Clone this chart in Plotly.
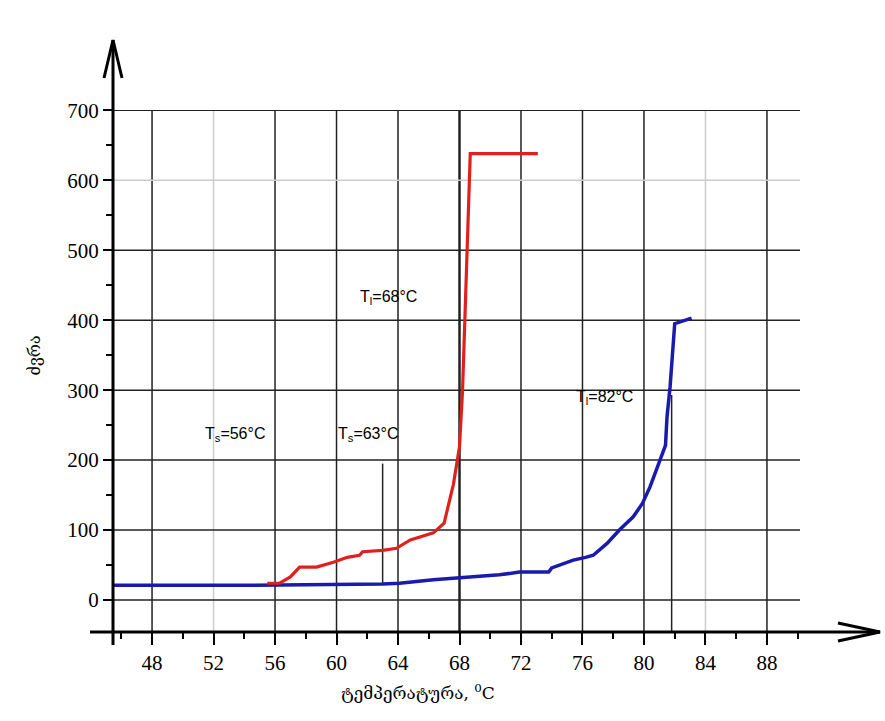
import plotly.graph_objects as go

# ---- data ----
red_x = [55.5, 56.3, 57.0, 57.6, 58.7, 59.8, 60.7, 61.5, 61.7, 63.0, 63.9, 64.8, 66.3, 67.0,
         67.6, 68.0, 68.2, 68.4, 68.6, 68.7, 73.1]
red_y = [24, 24, 33, 47, 47, 54, 61, 64, 69, 71, 74, 86, 96, 110,
         165, 219, 300, 433, 600, 638, 638]

blue_x = [45.5, 54.4, 63.0, 64.1, 66.3, 68.0, 70.6, 71.9, 73.8, 74.0, 74.5, 75.4, 76.2, 76.7,
          77.6, 78.4, 79.3, 79.9, 80.4, 80.9, 81.4, 81.5, 81.7, 82.0, 83.1]
blue_y = [21, 21, 23, 24, 29, 32, 36, 40, 40, 46, 50, 57, 61, 64,
          81, 100, 119, 138, 162, 190, 221, 262, 305, 395, 403]

x_ticks = [48, 52, 56, 60, 64, 68, 72, 76, 80, 84, 88]
y_ticks = [0, 100, 200, 300, 400, 500, 600, 700]

ann_texts = ["T<sub>l</sub>=68°C", "T<sub>s</sub>=56°C", "T<sub>s</sub>=63°C", "T<sub>l</sub>=82°C"]
ann_x = [63.35, 53.4, 62.05, 77.46]
ann_y = [433, 236, 236, 289]

marker_x = [63.0, 81.8]
marker_y0 = [22, -45.7]
marker_y1 = [195, 293]

x_title = "ტემპერატურა, <sup>0</sup>C"
y_title = "ძვრა"

SERIF = "Liberation Serif"

# ---- layout geometry ----
XMIN, XMAX = 45.46, 90.15
YMIN, YMAX = -45.7, 700.5
ML, MT = 113, 110
PW, PH = 885 - 113 - 85, 632 - 110


def px(xpix):
    return (xpix - ML) / PW


def py(ypix):
    return (MT + PH - ypix) / PH


fig = go.Figure()
fig.add_trace(go.Scatter(x=blue_x, y=blue_y, mode="lines",
                         line=dict(color="#1a1aad", width=3.5), showlegend=False))
fig.add_trace(go.Scatter(x=red_x, y=red_y, mode="lines",
                         line=dict(color="#e0201c", width=3.2), showlegend=False))

shapes = []
light_x = {52, 84}
bold_x = {68}
for xv in x_ticks:
    col = "#cccccc" if xv in light_x else "#222222"
    w = 2.5 if xv in bold_x else 1.5
    shapes.append(dict(type="line", xref="x", yref="y", x0=xv, x1=xv, y0=YMIN, y1=700,
                       line=dict(color=col, width=w), layer="below"))
for yv in y_ticks:
    col = "#cccccc" if yv == 600 else "#222222"
    shapes.append(dict(type="line", xref="x", yref="y", x0=XMIN, x1=XMAX, y0=yv, y1=yv,
                       line=dict(color=col, width=1.5), layer="below"))
for mx, a, b in zip(marker_x, marker_y0, marker_y1):
    shapes.append(dict(type="line", xref="x", yref="y", x0=mx, x1=mx, y0=a, y1=b,
                       line=dict(color="#222222", width=1.5), layer="below"))

# axes with arrows
shapes.append(dict(type="line", xref="paper", yref="paper", x0=px(90), x1=px(880),
                   y0=py(632), y1=py(632), line=dict(color="black", width=3)))
shapes.append(dict(type="line", xref="paper", yref="paper", x0=px(113), x1=px(113),
                   y0=py(645), y1=py(40), line=dict(color="black", width=3)))
shapes.append(dict(type="path", xref="paper", yref="paper",
                   path=f"M {px(838)} {py(623)} L {px(880)} {py(632)} L {px(838)} {py(641)}",
                   line=dict(color="black", width=3)))
shapes.append(dict(type="path", xref="paper", yref="paper",
                   path=f"M {px(104)} {py(78)} L {px(113)} {py(40)} L {px(122)} {py(78)}",
                   line=dict(color="black", width=3)))

annotations = []
for t, xa, ya in zip(ann_texts, ann_x, ann_y):
    annotations.append(dict(x=xa, y=ya, xref="x", yref="y", text=t, showarrow=False,
                            font=dict(family="Liberation Sans", size=16, color="black")))
annotations.append(dict(x=px(418), y=py(705), xref="paper", yref="paper", text=x_title,
                        showarrow=False, font=dict(family="DejaVu Serif", size=17, color="black")))
annotations.append(dict(x=px(22), y=py(355), xref="paper", yref="paper", text=y_title,
                        textangle=-90, showarrow=False,
                        font=dict(family="DejaVu Serif", size=16, color="black")))

fig.update_layout(
    width=885, height=721,
    margin=dict(l=ML, r=85, t=MT, b=721 - MT - PH, pad=0),
    plot_bgcolor="white", paper_bgcolor="white",
    font=dict(family=SERIF),
    shapes=shapes, annotations=annotations,
    xaxis=dict(range=[XMIN, XMAX], tickvals=x_ticks, ticks="outside", ticklen=12, tickwidth=2,
               tickcolor="black", showgrid=False, zeroline=False, showline=False,
               minor=dict(dtick=2, tick0=0, ticks="outside", ticklen=6, tickwidth=2, tickcolor="black"),
               tickfont=dict(family=SERIF, size=21, color="black")),
    yaxis=dict(range=[YMIN, YMAX], tickvals=y_ticks, ticks="outside", ticklen=9, tickwidth=2,
               tickcolor="black", showgrid=False, zeroline=False, showline=False,
               minor=dict(dtick=50, tick0=0, ticks="outside", ticklen=6, tickwidth=2, tickcolor="black"),
               tickfont=dict(family=SERIF, size=21, color="black")),
)

fig.write_html("out.html")
